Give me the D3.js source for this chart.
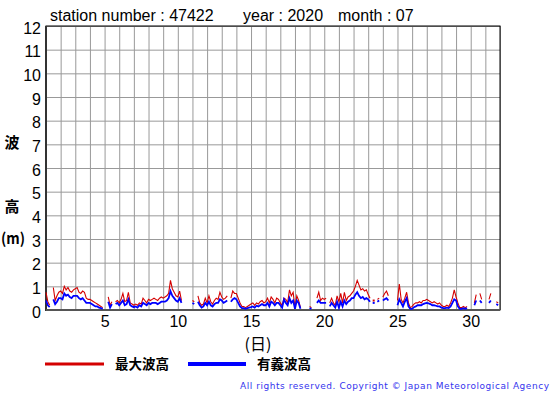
<!DOCTYPE html>
<html><head><meta charset="utf-8">
<script src="https://cdn.jsdelivr.net/npm/d3@7"></script>
<style>body{margin:0;background:#fff}svg{display:block}</style>
</head><body>
<svg id="c" width="555" height="395"></svg>
<script>
const titleParts = ["station number : 47422", "year : 2020", "month : 07"];
const yTicks = [0,1,2,3,4,5,6,7,8,9,10,11,12];
const xTicks = [5,10,15,20,25,30];
const days = d3.range(1, 33);
const stepsPerDay = 8; // 3-hourly readings
// 最大波高 (max wave height), 8 values per day
const maxWave = [
  0.75,0.35,0.2,null,0.95,0.4,0.6,0.75,
  0.8,0.7,1.0,0.85,0.95,0.8,0.75,0.85,
  0.9,0.95,0.75,0.7,0.8,0.75,0.5,0.45,
  0.45,0.4,0.35,0.3,0.25,0.2,0.15,0.1,
  null,null,0.55,0.2,0.35,null,0.35,0.4,
  0.3,0.45,0.7,0.35,0.4,0.75,0.3,0.25,
  0.2,0.25,0.2,0.3,0.25,0.5,0.4,0.3,
  0.45,0.4,0.45,0.5,0.45,0.4,0.5,0.55,
  0.5,0.55,0.6,0.7,1.25,0.9,0.75,0.6,
  0.55,0.8,0.4,null,null,null,null,null,
  0.4,0.35,null,0.6,0.3,0.2,0.25,0.5,
  0.3,0.6,0.35,0.25,0.4,0.5,0.45,0.75,
  0.55,0.45,0.5,0.6,null,0.5,0.8,0.7,
  0.7,0.5,0.3,0.15,0.15,0.1,0.15,0.2,
  0.25,0.3,0.2,0.3,0.25,0.35,0.4,0.3,
  0.35,0.5,0.3,0.55,0.45,0.3,0.5,0.45,
  0.3,0.2,0.5,0.45,0.3,0.85,0.6,0.75,
  0.1,0.6,0.4,0.1,null,null,null,null,
  0.15,0.1,null,null,0.5,0.75,0.4,0.5,
  0.45,0.5,null,0.3,0.5,0.3,0.2,0.6,
  0.35,0.7,0.3,0.75,0.4,0.55,0.6,0.7,
  0.8,1.0,1.25,1.05,0.85,0.9,0.8,0.85,
  0.65,0.5,null,0.4,null,0.45,0.5,null,
  0.55,0.7,0.8,0.6,null,null,null,null,
  0.4,1.1,0.45,0.3,0.5,0.75,0.3,0.1,
  0.15,0.25,0.3,0.3,0.35,0.3,0.4,0.4,
  0.45,0.4,0.35,0.3,0.35,0.3,0.25,0.3,
  0.2,0.15,0.15,0.2,0.15,0.3,0.5,0.85,
  0.55,0.3,0.1,0.1,0.15,0.1,0.15,null,
  null,null,0.3,0.65,null,0.7,0.45,null,
  null,null,0.45,0.7,null,null,0.35,0.3
];
// 有義波高 (significant wave height), 8 values per day
const sigWave = [
  0.4,0.2,0.12,null,0.45,0.25,0.35,0.5,
  0.5,0.45,0.7,0.6,0.65,0.55,0.5,0.6,
  0.6,0.6,0.5,0.45,0.5,0.4,0.3,0.3,
  0.3,0.25,0.2,0.15,0.15,0.1,0.08,0.05,
  null,null,0.35,0.1,0.25,null,0.25,0.3,
  0.2,0.3,0.4,0.2,0.25,0.45,0.2,0.15,
  0.12,0.15,0.1,0.2,0.15,0.3,0.25,0.2,
  0.3,0.25,0.3,0.3,0.3,0.25,0.3,0.35,
  0.35,0.35,0.4,0.5,0.8,0.6,0.5,0.4,
  0.35,0.5,0.3,null,null,null,null,null,
  0.3,0.25,null,0.35,0.2,0.1,0.15,0.3,
  0.2,0.35,0.2,0.15,0.25,0.3,0.3,0.45,
  0.4,0.3,0.35,0.4,null,0.35,0.45,0.5,
  0.45,0.3,0.15,0.08,0.08,0.05,0.08,0.1,
  0.12,0.15,0.1,0.18,0.15,0.2,0.25,0.2,
  0.2,0.3,0.15,0.35,0.3,0.2,0.3,0.3,
  0.2,0.1,0.45,0.3,0.2,0.5,0.3,0.4,
  0.05,0.4,0.3,0.05,null,null,null,null,
  0.08,0.05,null,null,0.3,0.4,0.3,0.3,
  0.3,0.3,null,0.15,0.3,0.2,0.1,0.35,
  0.1,0.35,0.15,0.4,0.25,0.35,0.4,0.5,
  0.5,0.65,0.75,0.6,0.5,0.55,0.45,0.5,
  0.45,0.35,null,0.3,null,0.35,0.4,null,
  0.4,0.45,0.5,0.4,null,null,null,null,
  0.2,0.45,0.3,0.15,0.35,0.5,0.15,0.05,
  0.05,0.12,0.15,0.2,0.2,0.2,0.25,0.28,
  0.3,0.28,0.25,0.2,0.2,0.18,0.15,0.15,
  0.1,0.08,0.08,0.1,0.08,0.15,0.3,0.45,
  0.4,0.15,0.05,0.05,0.08,0.05,0.08,null,
  null,null,0.2,0.4,null,0.4,0.3,null,
  null,null,0.3,0.4,null,null,0.25,0.2
];
const legendItems = [{label:"最大波高", color:"#d40000"}, {label:"有義波高", color:"#0000ff"}];

const svg = d3.select("#c");
const L = 46, R = 500, T = 26, B = 310;
const x = d3.scaleLinear().domain([1, 32]).range([L, R]);
const y = d3.scaleLinear().domain([0, 12]).range([B, T]);
const font = "'Liberation Sans', Arial, sans-serif";
const jfont = "'Noto Sans CJK JP', sans-serif";

// grid
svg.append("g").attr("transform", `translate(0,${B})`)
  .call(d3.axisBottom(x).tickValues(days).tickSize(-(B - T)).tickFormat(""))
  .call(g => { g.select(".domain").remove(); g.selectAll("line").attr("stroke", "#999").attr("stroke-width", 1); });
svg.append("g").attr("transform", `translate(${L},0)`)
  .call(d3.axisLeft(y).tickValues(yTicks).tickSize(-(R - L)).tickFormat(""))
  .call(g => { g.select(".domain").remove(); g.selectAll("line").attr("stroke", "#999").attr("stroke-width", 1); });

// frame
svg.append("rect").attr("x", L).attr("y", T).attr("width", R - L).attr("height", B - T)
  .attr("fill", "none").attr("stroke", "#000").attr("stroke-width", 1);
svg.append("line").attr("x1", L).attr("x2", L).attr("y1", T).attr("y2", B + 1).attr("stroke", "#333").attr("stroke-width", 2);
svg.append("line").attr("x1", L).attr("x2", R).attr("y1", B).attr("y2", B).attr("stroke", "#555").attr("stroke-width", 2);

// tick labels
svg.append("g").attr("transform", `translate(${L - 5},0)`)
  .call(d3.axisLeft(y).tickValues(yTicks).tickSize(0).tickPadding(0))
  .call(g => { g.select(".domain").remove();
    g.selectAll("text").attr("font-family", font).attr("font-size", 16).attr("fill", "#000").attr("dy", "0.45em"); });
svg.append("g").attr("transform", `translate(0,${B + 2})`)
  .call(d3.axisBottom(x).tickValues(xTicks).tickSize(0).tickPadding(4))
  .call(g => { g.select(".domain").remove();
    g.selectAll("text").attr("font-family", font).attr("font-size", 16).attr("fill", "#000"); });

// series
function series(vals) { return vals.map((v, i) => ({t: 1 + i / stepsPerDay, v})); }
const line = d3.line().defined(d => d.v != null).x(d => x(d.t)).y(d => y(d.v));
const plotG = svg.append("g");
[[maxWave, legendItems[0].color, 1.1], [sigWave, legendItems[1].color, 1.8]].forEach(([vals, col, w]) => {
  const s = series(vals);
  plotG.append("path").datum(s).attr("d", line).attr("fill", "none").attr("stroke", col).attr("stroke-width", w);
  const iso = s.filter((d, i) => d.v != null && (i === 0 || s[i-1].v == null) && (i === s.length - 1 || s[i+1].v == null));
  plotG.selectAll(null).data(iso).enter().append("rect")
    .attr("x", d => x(d.t) - 1).attr("y", d => y(d.v) - 1).attr("width", 2).attr("height", 2).attr("fill", col);
});

// title
const tx = [50, 243, 338];
svg.selectAll(".title").data(titleParts).enter().append("text")
  .attr("x", (d, i) => tx[i]).attr("y", 21).attr("font-family", font).attr("font-size", 16).attr("fill", "#000").text(d => d);

// y label
[["波", 148], ["高", 212]].forEach(([t, yy]) => {
  svg.append("text").attr("x", 12).attr("y", yy).attr("text-anchor", "middle")
    .attr("font-family", jfont).attr("font-weight", "bold").attr("font-size", 15).attr("fill", "#000").text(t);
});
svg.append("text").attr("x", 1).attr("y", 244).attr("textLength", 24).attr("lengthAdjust", "spacingAndGlyphs")
  .attr("font-family", jfont).attr("font-weight", "bold").attr("font-size", 15).attr("fill", "#000").text("(m)");
// x label
svg.append("text").attr("x", 258).attr("y", 350).attr("text-anchor", "middle")
  .attr("font-family", jfont).attr("font-size", 16).attr("fill", "#000").text("(日)");

// legend
const lx = [[45, 104, 115], [188, 246, 257]];
legendItems.forEach((it, i) => {
  svg.append("line").attr("x1", lx[i][0]).attr("x2", lx[i][1]).attr("y1", 364).attr("y2", 364)
    .attr("stroke", it.color).attr("stroke-width", i === 0 ? 3 : 4);
  svg.append("text").attr("x", lx[i][2]).attr("y", 369).attr("font-family", jfont).attr("font-weight", "bold")
    .attr("font-size", 13.5).attr("fill", "#000").text(it.label);
});

// copyright
svg.append("text").attr("x", 240).attr("y", 389).attr("font-family", "'DejaVu Sans', Verdana, sans-serif")
  .attr("font-size", 9).attr("fill", "#3333ee").attr("textLength", 309).attr("lengthAdjust", "spacing")
  .text("All rights reserved. Copyright © Japan Meteorological Agency");
</script>
</body></html>
